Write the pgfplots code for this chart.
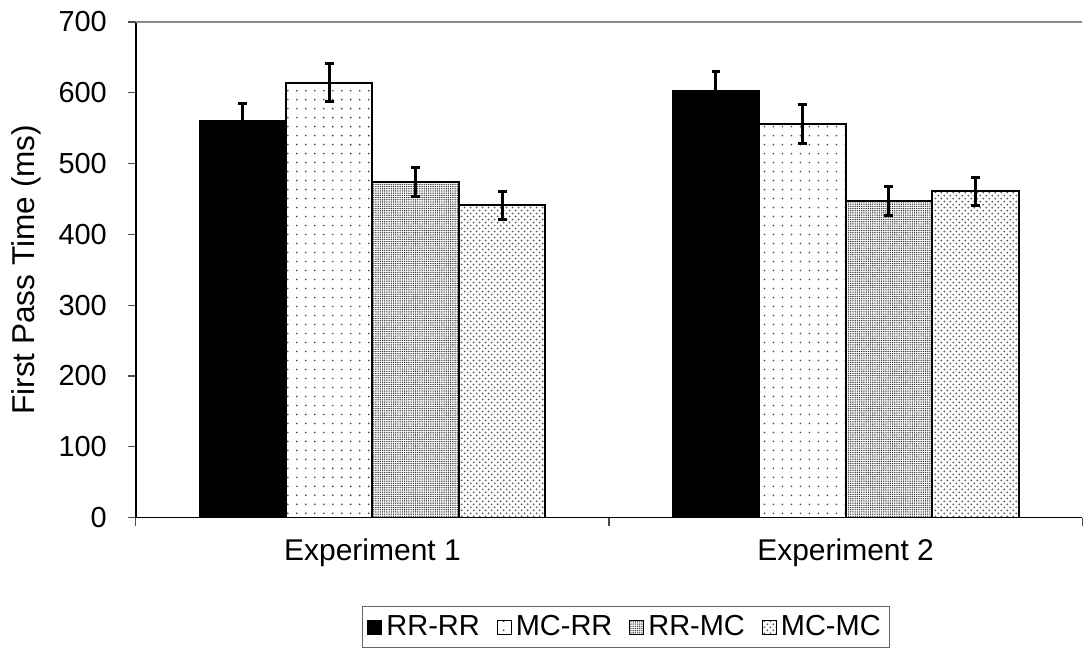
\documentclass[border=0pt]{standalone}
\usepackage{fontspec}
\setmainfont{Liberation Sans}
\usepackage{pgfplots}
\pgfplotsset{compat=1.18}
\usetikzlibrary{patterns,patterns.meta}

\begin{document}
\begin{tikzpicture}
\begin{axis}[
    scale only axis,
    width=473.5pt, height=248pt,
    ybar=0pt, bar width=43.25pt,
    xmin=0.5, xmax=2.5,
    ymin=0, ymax=700,
    ytick={0,100,...,700},
    xtick={1,2},
    xticklabels={Experiment 1,Experiment 2},
    minor xtick={0.5,1.5,2.5},
    major x tick style={draw=none},
    axis x line*=bottom,
    axis y line*=left,
    axis line style={line width=0.8pt, -},
    tick align=outside,
    major tick length=4pt,
    minor tick length=4pt,
    tick style={line width=0.6pt, black!70},
    /pgf/number format/assume math mode=true,
    yticklabel style={font=\fontsize{14.5}{16}\selectfont, xshift=-7pt},
    xticklabel style={font=\fontsize{15}{17}\selectfont, yshift=-3pt},
    ylabel={First Pass Time (ms)},
    ylabel style={font=\fontsize{15.8}{18}\selectfont, at={(axis description cs:-0.116,0.5)}, anchor=center},
    extra y ticks={700},
    extra y tick labels={},
    extra y tick style={grid=major, major grid style={line width=0.8pt, black!45}},
    legend columns=4,
    legend style={
        at={(0.518,-0.178)}, anchor=north,
        draw=black!60, line width=0.6pt,
        font=\fontsize{14.5}{17}\selectfont,
        /tikz/every even column/.append style={column sep=6.5pt},
        inner sep=2.5pt,
    },
    legend image code/.code={\draw[#1, line width=0.5pt] (0pt,-3.5pt) rectangle (7pt,3.5pt);},
    error bars/error bar style={line width=1.5pt, black},
    error bars/error mark options={rotate=90, mark size=2.2pt, line width=1.5pt, black},
]
\addplot+[draw=black, line width=1pt, fill=black,
    error bars/.cd, y dir=both, y explicit]
    coordinates {(1,560) +- (0,25) (2,602) +- (0,28)};
\addlegendentry{RR-RR}
\addplot+[draw=black, line width=1pt,
    pattern={Dots[distance=4.5pt, radius=0.45pt]}, pattern color=black!75,
    error bars/.cd, y dir=both, y explicit]
    coordinates {(1,614) +- (0,27) (2,556) +- (0,28)};
\addlegendentry{MC-RR}
\addplot+[draw=black, line width=1pt,
    pattern={Dots[distance=1.1pt, radius=0.38pt]}, pattern color=black!80,
    error bars/.cd, y dir=both, y explicit]
    coordinates {(1,474) +- (0,21) (2,447) +- (0,21)};
\addlegendentry{RR-MC}
\addplot+[draw=black, line width=1pt,
    pattern=crosshatch dots, pattern color=black!65,
    error bars/.cd, y dir=both, y explicit]
    coordinates {(1,441) +- (0,20) (2,461) +- (0,20)};
\addlegendentry{MC-MC}
\end{axis}
\path ([yshift=11pt]current axis.north);
\path ([xshift=-68pt]current axis.south west);
\end{tikzpicture}
\end{document}
